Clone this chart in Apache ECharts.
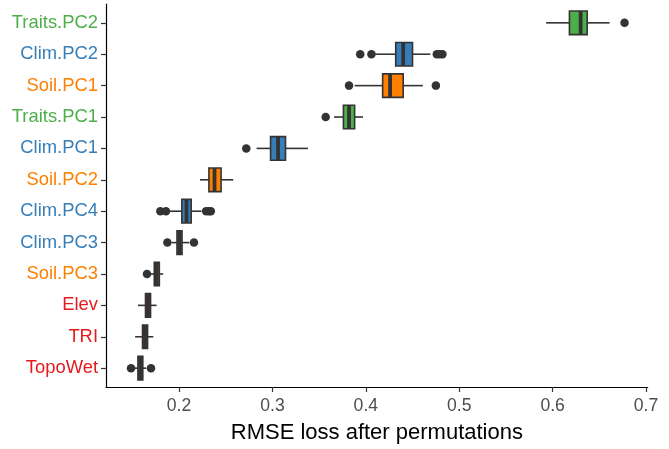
<!DOCTYPE html>
<html>
<head>
<meta charset="utf-8">
<script src="https://cdn.jsdelivr.net/npm/echarts@6/dist/echarts.min.js"></script>
<style>html,body{margin:0;padding:0;background:#fff;}#c{width:669px;height:449px;}</style>
</head>
<body>
<div id="c"></div>
<script>
// ---- data ----
var categories = ['Traits.PC2', 'Clim.PC2', 'Soil.PC1', 'Traits.PC1', 'Clim.PC1', 'Soil.PC2', 'Clim.PC4', 'Clim.PC3', 'Soil.PC3', 'Elev', 'TRI', 'TopoWet'];
var groups = ['Traits', 'Clim', 'Soil', 'Traits', 'Clim', 'Soil', 'Clim', 'Clim', 'Soil', 'Topo', 'Topo', 'Topo'];
var whiskerLow  = [0.593, 0.410, 0.388, 0.366, 0.283, 0.2225, 0.187, 0.192, 0.169, 0.156, 0.153, 0.152];
var q1          = [0.618, 0.432, 0.418, 0.376, 0.298, 0.232, 0.203, 0.1978, 0.1735, 0.1641, 0.1609, 0.1560];
var medians     = [0.630, 0.440, 0.426, 0.382, 0.306, 0.238, 0.208, 0.2005, 0.1762, 0.1668, 0.1636, 0.1586];
var q3          = [0.637, 0.450, 0.440, 0.388, 0.314, 0.245, 0.213, 0.2032, 0.1789, 0.1695, 0.1663, 0.1612];
var whiskerHigh = [0.661, 0.469, 0.461, 0.397, 0.338, 0.258, 0.224, 0.211, 0.183, 0.176, 0.1725, 0.165];
var outlierCat  = [0, 1, 1, 1, 1, 1, 2, 2, 3, 4, 6, 6, 6, 6, 6, 7, 7, 8, 11, 11];
var outlierVal  = [0.677, 0.394, 0.406, 0.476, 0.479, 0.482, 0.382, 0.475, 0.357, 0.272, 0.180, 0.186, 0.229, 0.232, 0.234, 0.1875, 0.216, 0.1657, 0.1486, 0.170];
var xTicks = [0.2, 0.3, 0.4, 0.5, 0.6, 0.7];

var groupColors = { Traits: '#4DAF4A', Clim: '#377EB8', Soil: '#FF7F00', Topo: '#E41A1C' };

// ---- build ----
var boxData = categories.map(function (c, i) {
  return [i, whiskerLow[i], q1[i], medians[i], q3[i], whiskerHigh[i]];
});
var outlierData = outlierCat.map(function (c, i) { return [outlierVal[i], c]; });
var yIdx = categories.map(function (c, i) { return i; });

var FONT = 'Liberation Sans, Arial, sans-serif';
var rich = {};
Object.keys(groupColors).forEach(function (k) {
  rich[k] = { color: groupColors[k], fontSize: 18.4, fontFamily: FONT };
});

var chart = echarts.init(document.getElementById('c'), null, { renderer: 'canvas' });
chart.setOption({
  animation: false,
  backgroundColor: '#ffffff',
  grid: { left: 106, right: 21.3, top: 4, bottom: 56.7, containLabel: false },
  xAxis: {
    type: 'value',
    min: 0.1218,
    max: 0.7018,
    name: 'RMSE loss after permutations',
    nameLocation: 'middle',
    nameGap: 35,
    nameTextStyle: { fontSize: 22, color: '#000', fontFamily: FONT },
    axisLine: { show: true, onZero: false, lineStyle: { color: '#000', width: 1.2 } },
    axisTick: { show: true, length: 5, customValues: xTicks, lineStyle: { color: '#333', width: 1.2 } },
    axisLabel: { customValues: xTicks, margin: 10, fontSize: 17.6, color: '#4D4D4D', fontFamily: FONT,
      formatter: function (v) { return String(Math.round(v * 10) / 10); } },
    splitLine: { show: false }
  },
  yAxis: {
    type: 'value',
    inverse: true,
    min: -0.6,
    max: 11.6,
    axisLine: { show: true, onZero: false, lineStyle: { color: '#000', width: 1.2 } },
    axisTick: { show: true, length: 5, customValues: yIdx, lineStyle: { color: '#333', width: 1.2 } },
    axisLabel: {
      customValues: yIdx, margin: 8, rich: rich,
      formatter: function (v) {
        var i = Math.round(v);
        return '{' + groups[i] + '|' + categories[i] + '}';
      }
    },
    splitLine: { show: false }
  },
  series: [
    {
      type: 'custom',
      data: boxData,
      encode: { x: [1, 2, 3, 4, 5], y: 0 },
      renderItem: function (params, api) {
        var idx = api.value(0);
        var pLow = api.coord([api.value(1), idx]);
        var pQ1 = api.coord([api.value(2), idx]);
        var pMed = api.coord([api.value(3), idx]);
        var pQ3 = api.coord([api.value(4), idx]);
        var pHigh = api.coord([api.value(5), idx]);
        var h = Math.abs(api.size([0, 0.75])[1]);
        var cy = pMed[1];
        var fill = groupColors[groups[idx]];
        return {
          type: 'group',
          children: [
            { type: 'line', shape: { x1: pLow[0], y1: cy, x2: pQ1[0], y2: cy }, style: { stroke: '#333', lineWidth: 1.6 } },
            { type: 'line', shape: { x1: pQ3[0], y1: cy, x2: pHigh[0], y2: cy }, style: { stroke: '#333', lineWidth: 1.6 } },
            { type: 'rect', shape: { x: pQ1[0], y: cy - h / 2, width: pQ3[0] - pQ1[0], height: h }, style: { fill: fill, stroke: '#333', lineWidth: 1.6 } },
            { type: 'line', shape: { x1: pMed[0], y1: cy - h / 2, x2: pMed[0], y2: cy + h / 2 }, style: { stroke: '#333', lineWidth: 3.8 } }
          ]
        };
      },
      z: 2
    },
    {
      type: 'scatter',
      data: outlierData,
      symbol: 'circle',
      symbolSize: 8.5,
      itemStyle: { color: '#333', opacity: 1 },
      z: 3
    }
  ]
});
</script>
</body>
</html>
